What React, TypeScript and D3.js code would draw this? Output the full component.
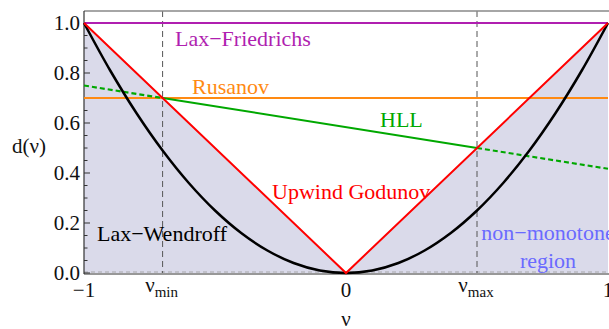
import React from "react";
import * as d3 from "d3";

// limits of the monotone band
const NU_MIN = -0.7;
const NU_MAX = 0.5;

// Lax-Wendroff curve (d ~ nu^2)
const lwNu = [-1, -0.9, -0.8, -0.7, -0.6, -0.5, -0.4, -0.3, -0.2, -0.1, 0, 0.1, 0.2, 0.3, 0.4, 0.5, 0.6, 0.7, 0.8, 0.9, 1];
const lwD = [1, 0.81, 0.64, 0.49, 0.36, 0.25, 0.16, 0.09, 0.04, 0.01, 0, 0.01, 0.04, 0.09, 0.16, 0.25, 0.36, 0.49, 0.64, 0.81, 1];

const upwindNu = [-1, 0, 1];
const upwindD = [1, 0, 1];

const lfNu = [-1, 1];
const lfD = [1, 1];

const rusNu = [-1, 1];
const rusD = [0.7, 0.7];

const hllNu = [-1, NU_MIN, NU_MAX, 1];
const hllD = [0.75, 0.7, 0.5, 0.417];

const yTicks = [0, 0.2, 0.4, 0.6, 0.8, 1.0];
const yMinor = d3.range(0, 1.05, 0.05);
const xTickVals = [-1, NU_MIN, 0, NU_MAX, 1];
const xTickText = ["−1", "ν|min", "0", "ν|max", "1"];

const W = 609;
const H = 329;
const serif = `"Liberation Serif"`;

const pts = (xs: number[], ys: number[]) => xs.map((x, i) => [x, ys[i]] as [number, number]);

function T({ size, color, children, ...rest }: any) {
  return (
    <text {...rest} fill={color || "#111"} style={{ fontFamily: serif, fontSize: size }}>
      {children}
    </text>
  );
}

export default function App() {
  const x = d3.scaleLinear().domain([-1, 1]).range([84, 608]);
  const y = d3.scaleLinear().domain([0, 1]).range([273, 23]);
  const yTop = y(1.048);

  const line = d3.line<[number, number]>().x((d) => x(d[0])).y((d) => y(d[1]));
  const smooth = d3.line<[number, number]>().x((d) => x(d[0])).y((d) => y(d[1])).curve(d3.curveCatmullRom);
  const area = d3.area<[number, number]>().x((d) => x(d[0])).y0(y(0)).y1((d) => y(d[1]));

  const hll = pts(hllNu, hllD);

  return (
    <svg width={W} height={H} style={{ position: "absolute", left: 0, top: 0, background: "#fff" }}>
      <path d={area(pts(upwindNu, upwindD)) || ""} fill="#dadaea" />
      <line x1={x(-1)} x2={W} y1={y(0) - 1} y2={y(0) - 1} stroke="#999" strokeWidth={0.8} strokeDasharray="4,3" />

      {/* guides at nu_min / nu_max */}
      {[NU_MIN, NU_MAX].map((v) => (
        <line key={v} x1={x(v)} x2={x(v)} y1={yTop} y2={y(0)} stroke="#555" strokeWidth={1} strokeDasharray="6,4" />
      ))}

      {/* frame */}
      <line x1={x(-1)} x2={W} y1={yTop} y2={yTop} stroke="#888" strokeWidth={1.5} />
      <line x1={x(-1)} x2={W} y1={y(0) + 1} y2={y(0) + 1} stroke="#333" strokeWidth={1.2} />
      <line x1={x(-1)} x2={x(-1)} y1={yTop} y2={y(0) + 1} stroke="#333" strokeWidth={1.2} />
      {yMinor.map((v, i) => (
        <line key={i} x1={x(-1)} x2={x(-1) + (i % 4 === 0 ? 6 : 3.5)} y1={y(v)} y2={y(v)} stroke="#333" strokeWidth={1} />
      ))}

      {/* curves */}
      <path d={line(pts(lfNu, lfD)) || ""} fill="none" stroke="#b01fb0" strokeWidth={2} />
      <path d={line(pts(rusNu, rusD)) || ""} fill="none" stroke="#ff8a12" strokeWidth={2} />
      <path d={line(hll.slice(1, 3)) || ""} fill="none" stroke="#00a800" strokeWidth={2} />
      <path d={line(hll.slice(0, 2)) || ""} fill="none" stroke="#00a800" strokeWidth={2.2} strokeDasharray="5,3" />
      <path d={line(hll.slice(2)) || ""} fill="none" stroke="#00a800" strokeWidth={2.2} strokeDasharray="5,3" />
      <path d={smooth(pts(lwNu, lwD)) || ""} fill="none" stroke="#000" strokeWidth={2.5} />
      <path d={line(pts(upwindNu, upwindD)) || ""} fill="none" stroke="#ff0000" strokeWidth={2} />

      {/* y ticks */}
      {yTicks.map((v) => (
        <T key={v} x={80} y={y(v) + 7} textAnchor="end" size={21}>{v.toFixed(1)}</T>
      ))}
      <T x={12} y={153} size={21}>d(ν)</T>

      {/* x ticks */}
      {xTickVals.map((v, i) => {
        const [base, sub] = xTickText[i].split("|");
        return sub ? (
          <T key={i} x={x(v) - 1} y={292} textAnchor="middle" size={21}>
            {base}<tspan dy={5} style={{ fontSize: 15 }}>{sub}</tspan>
          </T>
        ) : (
          <T key={i} x={x(v)} y={297} textAnchor="middle" size={21}>{base}</T>
        );
      })}
      <T x={x(0)} y={326} textAnchor="middle" size={21}>ν</T>

      {/* labels */}
      <T x={175} y={46} size={22} color="#b01fb0">Lax−Friedrichs</T>
      <T x={192} y={94} size={22} color="#ff8a12">Rusanov</T>
      <T x={380} y={127} size={22} color="#00a800">HLL</T>
      <T x={272} y={199} size={22} color="#ff0000">Upwind Godunov</T>
      <T x={97} y={241} size={22} color="#000">Lax−Wendroff</T>
      <T x={548} y={240} textAnchor="middle" size={22} color="#6a6aff">non−monotone</T>
      <T x={548} y={268} textAnchor="middle" size={22} color="#6a6aff">region</T>
    </svg>
  );
}
